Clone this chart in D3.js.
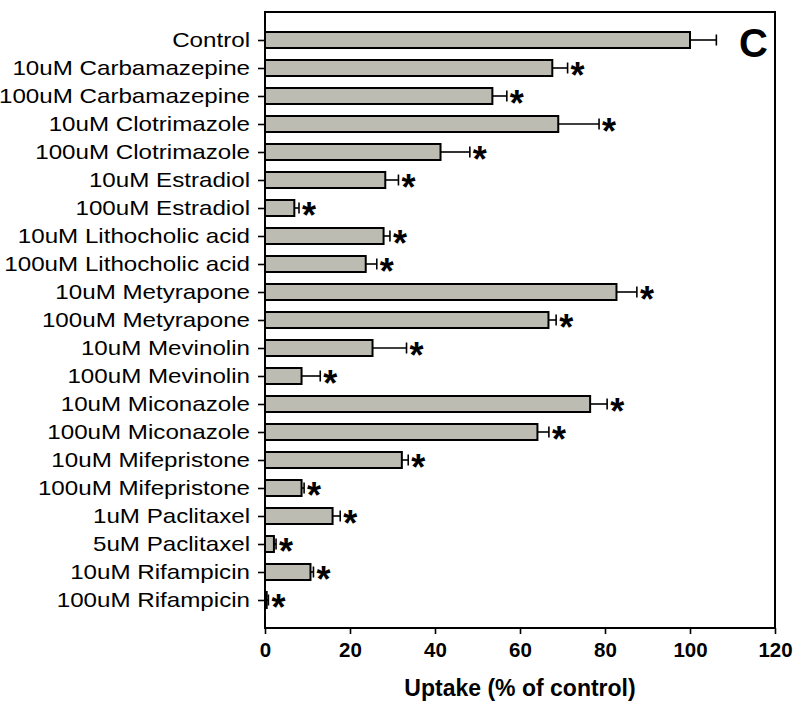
<!DOCTYPE html>
<html><head><meta charset="utf-8">
<script src="https://cdn.jsdelivr.net/npm/d3@7"></script>
<style>body{margin:0;background:#fff}svg{display:block}text{font-family:Arial,"Liberation Sans",Helvetica,sans-serif}</style>
</head><body>
<svg id="c" width="800" height="702"></svg>
<script>
const categories = ["Control","10uM Carbamazepine","100uM Carbamazepine","10uM Clotrimazole","100uM Clotrimazole","10uM Estradiol","100uM Estradiol","10uM Lithocholic acid","100uM Lithocholic acid","10uM Metyrapone","100uM Metyrapone","10uM Mevinolin","100uM Mevinolin","10uM Miconazole","100uM Miconazole","10uM Mifepristone","100uM Mifepristone","1uM Paclitaxel","5uM Paclitaxel","10uM Rifampicin","100uM Rifampicin"];
const uptake = [100,67.6,53.5,69,41.3,28.3,6.9,27.9,23.7,82.7,66.7,25.3,8.6,76.5,64.1,32.2,8.6,15.9,2.1,10.7,0.4];
const errors = [6.2,3.6,3.4,9.6,6.9,3.1,1.1,1.5,2.6,4.8,1.8,8.0,4.4,4.0,2.7,1.5,0.6,1.8,0.5,0.7,0.4];
const significant = [false,true,true,true,true,true,true,true,true,true,true,true,true,true,true,true,true,true,true,true,true];
const xTicks = [0,20,40,60,80,100,120];
const xTitle = "Uptake (% of control)";
const panelLabel = "C";

const svg = d3.select("#c");
const L=265,R=775,T=12,B=628;
const x = d3.scaleLinear().domain([0,120]).range([L,R]);
const y = d3.scalePoint().domain(categories).range([T,B]).padding(1);
const bh = 16;

// bars
svg.append("g").selectAll("rect").data(categories).join("rect")
  .attr("x", x(0)).attr("y", d=>y(d)-bh/2)
  .attr("width", (d,i)=>x(uptake[i])-x(0)).attr("height", bh)
  .attr("fill","#bcbcb3").attr("stroke","#000").attr("stroke-width",2);

// error bars
const eg = svg.append("g").attr("stroke","#000").attr("stroke-width",1.6);
categories.forEach((c,i)=>{
  const x0=x(uptake[i]), x1=x(uptake[i]+errors[i]), yy=y(c);
  eg.append("line").attr("x1",x0).attr("x2",x1).attr("y1",yy).attr("y2",yy);
  eg.append("line").attr("x1",x1).attr("x2",x1).attr("y1",yy-5.5).attr("y2",yy+5.5);
});

// asterisks
svg.append("g").selectAll("text").data(categories.filter((c,i)=>significant[i])).join("text")
  .attr("x", d=>{const i=categories.indexOf(d);return x(uptake[i]+errors[i])+3;})
  .attr("y", d=>y(d)+20)
  .attr("font-size",36).attr("font-weight","bold").text("*");

// frame
svg.append("rect").attr("x",L).attr("y",T).attr("width",R-L).attr("height",B-T)
  .attr("fill","none").attr("stroke","#000").attr("stroke-width",2);

// y axis
const ya = svg.append("g").attr("transform",`translate(${L},0)`)
  .call(d3.axisLeft(y).tickSize(7).tickPadding(8));
ya.select(".domain").remove();
ya.selectAll("line").attr("stroke-width",1.6);
ya.selectAll("text").attr("font-size",21).attr("fill","#000").attr("font-family","Arial, 'Liberation Sans', sans-serif")
  .each(function(){const w=this.getComputedTextLength();d3.select(this).attr("textLength",w*1.15).attr("lengthAdjust","spacingAndGlyphs");});

// x axis
const xa = svg.append("g").attr("transform",`translate(0,${B})`)
  .call(d3.axisBottom(x).tickValues(xTicks).tickSize(6).tickPadding(8));
xa.select(".domain").remove();
xa.selectAll("line").attr("stroke-width",1.6);
xa.selectAll("text").attr("font-size",20.5).attr("font-weight","bold").attr("fill","#000").attr("font-family","Arial, 'Liberation Sans', sans-serif");

svg.append("text").attr("x",(L+R)/2).attr("y",696).attr("text-anchor","middle")
  .attr("font-size",23).attr("font-weight","bold").text(xTitle);

svg.append("text").attr("x",768).attr("y",57).attr("text-anchor","end")
  .attr("font-size",40).attr("font-weight","bold").text(panelLabel);
</script>
</body></html>
